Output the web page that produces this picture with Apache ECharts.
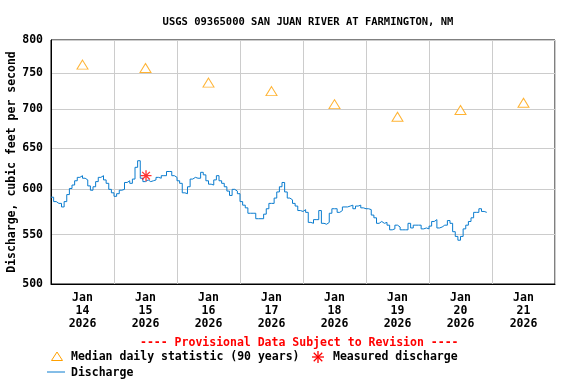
<!DOCTYPE html>
<html>
<head>
<meta charset="utf-8">
<script src="https://cdn.jsdelivr.net/npm/echarts@6/dist/echarts.min.js"></script>
<style>html,body{margin:0;padding:0;background:#fff}#c{width:576px;height:384px}</style>
</head>
<body>
<div id="c"></div>
<script>
// Hours since Jan 14 2026 00:00
const dischargeHours = [];
for (let h = 0; h <= 166; h++) dischargeHours.push(h);
const dischargeValues = [
591,586,584,584,580,586,594,601,605,610,614,616,613,611,604,599,603,609,614,616,611,607,600,596,
592,595,599,600,608,610,607,612,626,634,613,609,611,609,610,611,614,613,616,616,621,621,616,614,
610,607,596,595,603,612,614,613,613,620,617,610,606,605,611,616,610,607,603,598,593,600,598,595,
586,582,579,573,573,573,567,567,567,572,578,584,584,590,597,603,608,597,590,588,584,581,576,575,
577,574,563,562,566,566,576,562,561,563,573,578,578,574,576,580,580,581,582,578,581,582,579,578,
578,577,571,568,562,564,562,563,560,555,556,560,558,555,555,555,562,557,560,560,560,556,557,556,
559,564,566,557,558,560,560,565,562,553,548,544,548,556,560,564,568,574,574,578,575,574,574
];
const medianHours = [12, 36, 60, 84, 108, 132, 156, 180];
const medianValues = [763, 758, 737, 725, 707, 690, 699, 709];
const measuredHours = [36.2];
const measuredValues = [616];
const dayLabels = ['Jan\n14\n2026','Jan\n15\n2026','Jan\n16\n2026','Jan\n17\n2026','Jan\n18\n2026','Jan\n19\n2026','Jan\n20\n2026','Jan\n21\n2026'];
const yTicks = [500, 550, 600, 650, 700, 750, 800];

const FONT = 'DejaVu Sans Mono';
const TXT = 'bold 11.5px "DejaVu Sans Mono"';
const STAR = 'path://M6,0L6,12M0,6L12,6M1.8,1.8L10.2,10.2M10.2,1.8L1.8,10.2';

function starLines(cx, cy, r, color) {
  const d = r * 0.707;
  return [[0, -r, 0, r], [-r, 0, r, 0], [-d, -d, d, d], [d, -d, -d, d]].map(s => ({
    type: 'line', shape: {x1: cx + s[0], y1: cy + s[1], x2: cx + s[2], y2: cy + s[3]},
    style: {stroke: color, lineWidth: 1.3}
  }));
}

const chart = echarts.init(document.getElementById('c'), null, {renderer: 'canvas'});
chart.setOption({
  animation: false,
  backgroundColor: '#fff',
  title: {
    text: 'USGS 09365000 SAN JUAN RIVER AT FARMINGTON, NM',
    left: 303, top: 12, textAlign: 'center',
    textStyle: {fontFamily: FONT, fontWeight: 'bold', fontSize: 10.5, color: '#000'}
  },
  grid: {left: 51, right: 21, top: 40, bottom: 100, outerBoundsMode: 'none', containLabel: false,
    show: true, borderColor: '#000', borderWidth: 1, backgroundColor: 'transparent'},
  xAxis: [{
    type: 'category', data: dayLabels, boundaryGap: true,
    axisLine: {lineStyle: {color: '#000'}},
    axisTick: {show: false},
    splitLine: {show: true, interval: 0, lineStyle: {color: '#cccccc', width: 1}},
    axisLabel: {fontFamily: FONT, fontWeight: 'bold', fontSize: 11.5, color: '#000', lineHeight: 13, margin: 8, interval: 0}
  }, {
    type: 'value', min: 0, max: 192, show: false
  }],
  yAxis: {
    type: 'log', logBase: 10, min: 500, max: 800,
    name: 'Discharge, cubic feet per second', nameLocation: 'middle', nameGap: 33, nameMoveOverlap: false,
    nameTextStyle: {fontFamily: FONT, fontWeight: 'bold', fontSize: 11.5, color: '#000'},
    axisLine: {show: true, lineStyle: {color: '#000'}},
    axisTick: {show: false, customValues: yTicks},
    splitLine: {show: true, lineStyle: {color: '#cccccc', width: 1}},
    axisLabel: {customValues: yTicks, fontFamily: FONT, fontWeight: 'bold', fontSize: 11.5, color: '#000', margin: 8,
      formatter: v => String(Math.round(v))}
  },
  series: [{
    name: 'Discharge', type: 'line', xAxisIndex: 1, step: 'end',
    data: dischargeHours.map((h, i) => [h, dischargeValues[i]]),
    showSymbol: false, lineStyle: {color: '#0a7ccf', width: 1}, z: 3
  }, {
    name: 'Median daily statistic (90 years)', type: 'scatter', xAxisIndex: 1,
    data: medianHours.map((h, i) => [h, medianValues[i]]),
    symbol: 'triangle', symbolSize: [11, 9],
    itemStyle: {color: '#fff', borderColor: '#ffa000', borderWidth: 1}, z: 4
  }, {
    name: 'Measured discharge', type: 'scatter', xAxisIndex: 1,
    data: measuredHours.map((h, i) => [h, measuredValues[i]]),
    symbol: STAR, symbolSize: 11,
    itemStyle: {color: 'none', borderColor: '#ff0000', borderWidth: 1.3}, z: 5
  }],
  graphic: [
    {type: 'text', x: 140, y: 337, style: {text: '---- Provisional Data Subject to Revision ----', fill: '#ff0000', font: TXT}},
    {type: 'polygon', shape: {points: [[57, 352], [51.5, 360.5], [62.5, 360.5]]}, style: {fill: 'none', stroke: '#ffa000', lineWidth: 1}},
    {type: 'text', x: 71, y: 351.5, style: {text: 'Median daily statistic (90 years)', fill: '#000', font: TXT}},
    ...starLines(318, 357, 6, '#ff0000'),
    {type: 'text', x: 333, y: 351.5, style: {text: 'Measured discharge', fill: '#000', font: TXT}},
    {type: 'line', shape: {x1: 47, y1: 372, x2: 65, y2: 372}, style: {stroke: '#0a7ccf', lineWidth: 1}},
    {type: 'text', x: 71, y: 367.5, style: {text: 'Discharge', fill: '#000', font: TXT}}
  ]
});
</script>
</body>
</html>
